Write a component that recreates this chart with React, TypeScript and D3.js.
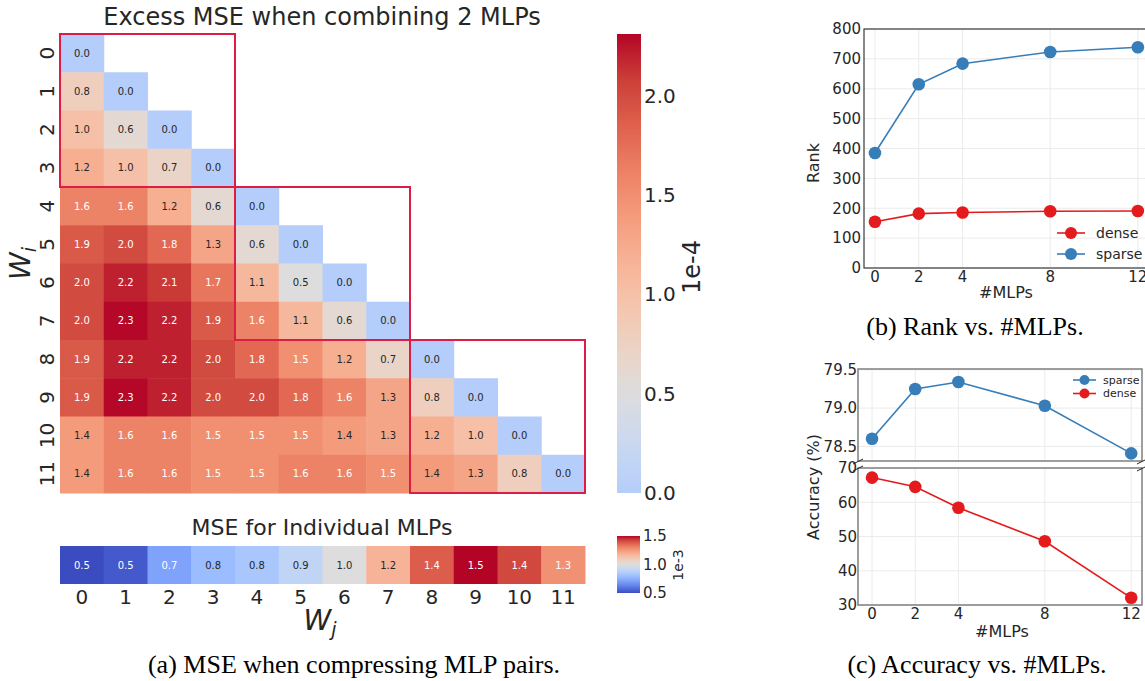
import React from 'react';
import * as d3 from 'd3';

const width = 1145, height = 681;
const sans = 'DejaVu Sans';
const serif = 'Liberation Serif';
const ink = '#262626';

// excess MSE (x1e-4) when merging W_i and W_j, lower triangle, row i = columns 0..i
const excessMse = [
    [0.0],
    [0.8, 0.0],
    [1.0, 0.6, 0.0],
    [1.2, 1.0, 0.7, 0.0],
    [1.6, 1.6, 1.2, 0.6, 0.0],
    [1.9, 2.0, 1.8, 1.3, 0.6, 0.0],
    [2.0, 2.2, 2.1, 1.7, 1.1, 0.5, 0.0],
    [2.0, 2.3, 2.2, 1.9, 1.6, 1.1, 0.6, 0.0],
    [1.9, 2.2, 2.2, 2.0, 1.8, 1.5, 1.2, 0.7, 0.0],
    [1.9, 2.3, 2.2, 2.0, 2.0, 1.8, 1.6, 1.3, 0.8, 0.0],
    [1.4, 1.6, 1.6, 1.5, 1.5, 1.5, 1.4, 1.3, 1.2, 1.0, 0.0],
    [1.4, 1.6, 1.6, 1.5, 1.5, 1.6, 1.6, 1.5, 1.4, 1.3, 0.8, 0.0],
];
// MSE (x1e-3) of each MLP on its own
const individualMse = [0.50, 0.53, 0.71, 0.79, 0.83, 0.90, 1.00, 1.18, 1.38, 1.50, 1.42, 1.27];
const layers = ['0', '1', '2', '3', '4', '5', '6', '7', '8', '9', '10', '11'];
// the red boxes: groups of 4 consecutive MLPs
const groups = [[0, 3], [4, 7], [8, 11]];
const excessTicks = [0, 0.5, 1.0, 1.5, 2.0];
const individualTicks = [0.5, 1.0, 1.5];

// rank / accuracy vs number of merged MLPs
const mlpCounts = [0, 2, 4, 8, 12];
const rankSparse = [385, 615, 684, 723, 739];
const rankDense = [155, 182, 186, 190, 191];
const accSparse = [78.60, 79.25, 79.34, 79.03, 78.41];
const accDense = [67.2, 64.5, 58.4, 48.6, 32.1];

const blue = '#377eb8', red = '#e41a1c';

// matplotlib coolwarm, sampled every 1/16
const coolwarmStops = [[59, 76, 192], [77, 104, 215], [98, 130, 234], [119, 154, 247], [141, 176, 254],
    [163, 194, 255], [184, 208, 249], [204, 217, 238], [221, 221, 221], [236, 211, 197], [245, 196, 172],
    [247, 177, 148], [244, 154, 123], [236, 127, 99], [222, 96, 77], [203, 62, 56], [180, 4, 38]];
const coolwarm = d3.scaleLinear<string>()
    .domain(coolwarmStops.map((_, i) => i / 16))
    .range(coolwarmStops.map(c => `rgb(${c[0]},${c[1]},${c[2]})`))
    .interpolate(d3.interpolateRgb)
    .clamp(true);

// seaborn-style centred colormap
const centred = (vmin: number, vmax: number, center: number) => {
    const vr = Math.max(vmax - center, center - vmin);
    return (v: number) => coolwarm((v - (center - vr)) / (2 * vr));
};
const excessColor = centred(0, 2.31, 0.5);
const individualColor = centred(0.5, 1.5, 1.0);

// seaborn picks the annotation colour from the cell luminance
const textColor = (c: string) => {
    const rgb = d3.rgb(c);
    const lin = (x: number) => { x /= 255; return x <= 0.03928 ? x / 12.92 : Math.pow((x + 0.055) / 1.055, 2.4); };
    const lum = 0.2126 * lin(rgb.r) + 0.7152 * lin(rgb.g) + 0.0722 * lin(rgb.b);
    return lum > 0.408 ? ink : '#ffffff';
};

const fmt = d3.format('.1f');

function Heatmaps() {
    const x = d3.scaleBand().domain(layers).range([60, 585]);
    const y = d3.scaleBand().domain(layers).range([34, 493]);
    const cb = d3.scaleLinear().domain([0, 2.31]).range([493, 34]);
    const cbSmall = d3.scaleLinear().domain([0.5, 1.5]).range([593, 536]);
    const stripY = 546, stripH = 38;
    const gradStops = d3.range(0, 1.0001, 0.05);

    return (
        <g fontFamily={sans}>
            <defs>
                <linearGradient id="cbExcess" x1="0" y1="1" x2="0" y2="0">
                    {gradStops.map(t => <stop key={t} offset={t} stopColor={excessColor(t * 2.31)} />)}
                </linearGradient>
                <linearGradient id="cbIndiv" x1="0" y1="1" x2="0" y2="0">
                    {gradStops.map(t => <stop key={t} offset={t} stopColor={individualColor(0.5 + t)} />)}
                </linearGradient>
            </defs>

            <text x={322} y={25} textAnchor="middle" fontSize={24} fill={ink}>Excess MSE when combining 2 MLPs</text>

            {excessMse.map((row, i) => row.map((v, j) => {
                const c = excessColor(v);
                return (
                    <g key={`${i}-${j}`}>
                        <rect x={x(layers[j])} y={y(layers[i])} width={x.bandwidth() + 0.5} height={y.bandwidth() + 0.5} fill={c} />
                        <text x={x(layers[j])! + x.bandwidth() / 2} y={y(layers[i])! + y.bandwidth() / 2}
                            dy="0.35em" textAnchor="middle" fontSize={10} fill={textColor(c)}>{fmt(v)}</text>
                    </g>
                );
            }))}

            {groups.map(([a, b]) => (
                <rect key={a} x={x(layers[a])} y={y(layers[a])}
                    width={x(layers[b])! + x.bandwidth() - x(layers[a])!}
                    height={y(layers[b])! + y.bandwidth() - y(layers[a])!}
                    fill="none" stroke="#dc1e46" strokeWidth={2} />
            ))}

            {layers.map(l => (
                <text key={l} transform={`translate(47,${y(l)! + y.bandwidth() / 2}) rotate(-90)`}
                    dy="0.35em" textAnchor="middle" fontSize={20} fill={ink}>{l}</text>
            ))}
            <text transform={`translate(30,${(34 + 493) / 2}) rotate(-90)`} textAnchor="middle"
                fontSize={28} fontStyle="italic" fill={ink}>W<tspan fontSize={19} dy={6}>i</tspan></text>

            {/* colorbar for excess MSE */}
            <rect x={617} y={cb(2.31)} width={24} height={cb(0) - cb(2.31)} fill="url(#cbExcess)" />
            {excessTicks.map(t => (
                <text key={t} x={644} y={cb(t)} dy="0.35em" fontSize={20} fill={ink}>{fmt(t)}</text>
            ))}
            <text transform="translate(700,267) rotate(-90)" textAnchor="middle" fontSize={24} fill={ink}>1e-4</text>

            {/* individual MSE strip */}
            <text x={322} y={535} textAnchor="middle" fontSize={22} fill={ink}>MSE for Individual MLPs</text>
            {individualMse.map((v, j) => {
                const c = individualColor(v);
                return (
                    <g key={j}>
                        <rect x={x(layers[j])} y={stripY} width={x.bandwidth() + 0.5} height={stripH} fill={c} />
                        <text x={x(layers[j])! + x.bandwidth() / 2} y={stripY + stripH / 2} dy="0.35em"
                            textAnchor="middle" fontSize={10} fill={textColor(c)}>{fmt(v)}</text>
                    </g>
                );
            })}
            {layers.map(l => (
                <text key={l} x={x(l)! + x.bandwidth() / 2} y={604} textAnchor="middle" fontSize={20} fill={ink}>{l}</text>
            ))}
            <text x={320} y={630} textAnchor="middle" fontSize={28} fontStyle="italic" fill={ink}>
                W<tspan fontSize={19} dy={6}>j</tspan>
            </text>

            <rect x={617} y={cbSmall(1.5)} width={23} height={cbSmall(0.5) - cbSmall(1.5)} fill="url(#cbIndiv)" />
            {individualTicks.map(t => (
                <text key={t} x={643} y={cbSmall(t)} dy="0.35em" fontSize={15} fill={ink}>{fmt(t)}</text>
            ))}
            <text transform="translate(683,565) rotate(-90)" textAnchor="middle" fontSize={14} fill={ink}>1e-3</text>

            <text x={354} y={673} textAnchor="middle" fontFamily={serif} fontSize={26} fill="#000">(a) MSE when compressing MLP pairs.</text>
        </g>
    );
}

function Series({ x, y, xs, ys, color, r }: any) {
    const line = d3.line<number>().x((_, i) => x(xs[i])).y(d => y(d));
    return (
        <g>
            <path d={line(ys)!} fill="none" stroke={color} strokeWidth={1.6} />
            {ys.map((v: number, i: number) => <circle key={i} cx={x(xs[i])} cy={y(v)} r={r} fill={color} />)}
        </g>
    );
}

function RankChart() {
    const x = d3.scaleLinear().domain([-0.5, 12.5]).range([864, 1148.8]);
    const y = d3.scaleLinear().domain([0, 800]).range([268, 29]);
    return (
        <g fontFamily={sans}>
            {y.ticks(8).map(t => <line key={t} x1={864} x2={1150} y1={y(t)} y2={y(t)} stroke="#ebebeb" />)}
            {mlpCounts.map(t => <line key={t} x1={x(t)} x2={x(t)} y1={29} y2={268} stroke="#ebebeb" />)}
            <rect x={864} y={29} width={290} height={239} fill="none" stroke="#3a3a3a" strokeWidth={1.2} />
            <Series x={x} y={y} xs={mlpCounts} ys={rankSparse} color={blue} r={6.3} />
            <Series x={x} y={y} xs={mlpCounts} ys={rankDense} color={red} r={6.3} />
            {y.ticks(8).map(t => (
                <text key={t} x={861} y={y(t)} dy="0.35em" textAnchor="end" fontSize={15} fill={ink}>{t}</text>
            ))}
            {mlpCounts.map(t => (
                <text key={t} x={x(t)} y={282} textAnchor="middle" fontSize={15} fill={ink}>{t}</text>
            ))}
            <text x={1006} y={298} textAnchor="middle" fontSize={16} fill={ink}>#MLPs</text>
            <text transform="translate(819,163) rotate(-90)" textAnchor="middle" fontSize={16} fill={ink}>Rank</text>

            {[['dense', red], ['sparse', blue]].map(([label, c], i) => (
                <g key={label} transform={`translate(0,${233 + i * 21})`}>
                    <line x1={1057} x2={1085} y1={0} y2={0} stroke={c} strokeWidth={1.6} />
                    <circle cx={1071} cy={0} r={6} fill={c} />
                    <text x={1096} y={0} dy="0.35em" fontSize={14} fill={ink}>{label}</text>
                </g>
            ))}

            <text x={975} y={335} textAnchor="middle" fontFamily={serif} fontSize={26} fill="#000">(b) Rank vs. #MLPs.</text>
        </g>
    );
}

function AccuracyChart() {
    const x = d3.scaleLinear().domain([-0.65, 12.5]).range([858, 1142]);
    const yTop = d3.scaleLinear().domain([78.31, 79.51]).range([461, 369]);
    const yBot = d3.scaleLinear().domain([30, 70]).range([605, 468]);
    const topTicks = [78.5, 79.0, 79.5];
    const botTicks = yBot.ticks(4);
    const frame = '#7f7f7f';
    return (
        <g fontFamily={sans}>
            {topTicks.map(t => <line key={t} x1={858} x2={1142} y1={yTop(t)} y2={yTop(t)} stroke="#ebebeb" />)}
            {botTicks.map(t => <line key={t} x1={858} x2={1142} y1={yBot(t)} y2={yBot(t)} stroke="#ebebeb" />)}
            {mlpCounts.map(t => (
                <g key={t}>
                    <line x1={x(t)} x2={x(t)} y1={369} y2={461} stroke="#ebebeb" />
                    <line x1={x(t)} x2={x(t)} y1={468} y2={605} stroke="#ebebeb" />
                </g>
            ))}
            <rect x={858} y={369} width={284} height={92} fill="none" stroke={frame} strokeWidth={1.5} />
            <rect x={858} y={468} width={284} height={137} fill="none" stroke={frame} strokeWidth={1.5} />
            {/* axis-break marks */}
            {[858, 1142].map(bx => (
                <g key={bx} stroke={ink} strokeWidth={1}>
                    <line x1={bx - 5} y1={464} x2={bx + 5} y2={459} />
                    <line x1={bx - 5} y1={471} x2={bx + 5} y2={466} />
                </g>
            ))}
            <Series x={x} y={yTop} xs={mlpCounts} ys={accSparse} color={blue} r={6.3} />
            <Series x={x} y={yBot} xs={mlpCounts} ys={accDense} color={red} r={6.3} />

            {topTicks.map(t => (
                <text key={t} x={857} y={yTop(t)} dy="0.35em" textAnchor="end" fontSize={15} fill={ink}>{fmt(t)}</text>
            ))}
            {botTicks.map(t => (
                <text key={t} x={857} y={yBot(t)} dy="0.35em" textAnchor="end" fontSize={15} fill={ink}>{t}</text>
            ))}
            {mlpCounts.map(t => (
                <text key={t} x={x(t)} y={619} textAnchor="middle" fontSize={15} fill={ink}>{t}</text>
            ))}
            <text x={1002} y={637} textAnchor="middle" fontSize={16} fill={ink}>#MLPs</text>
            <text transform="translate(819,487) rotate(-90)" textAnchor="middle" fontSize={16} fill={ink}>Accuracy (%)</text>

            {[['sparse', blue], ['dense', red]].map(([label, c], i) => (
                <g key={label} transform={`translate(0,${380 + i * 13.5})`}>
                    <line x1={1073} x2={1096} y1={0} y2={0} stroke={c} strokeWidth={1.6} />
                    <circle cx={1084.5} cy={0} r={5} fill={c} />
                    <text x={1103} y={0} dy="0.35em" fontSize={11} fill={ink}>{label}</text>
                </g>
            ))}

            <text x={977} y={673} textAnchor="middle" fontFamily={serif} fontSize={26} fill="#000">(c) Accuracy vs. #MLPs.</text>
        </g>
    );
}

export default function App() {
    return (
        <div style={{ position: 'absolute', left: 0, top: 0 }}>
            <svg width={width} height={height} viewBox={`0 0 ${width} ${height}`} style={{ display: 'block', background: '#fff' }}>
                <Heatmaps />
                <RankChart />
                <AccuracyChart />
            </svg>
        </div>
    );
}
